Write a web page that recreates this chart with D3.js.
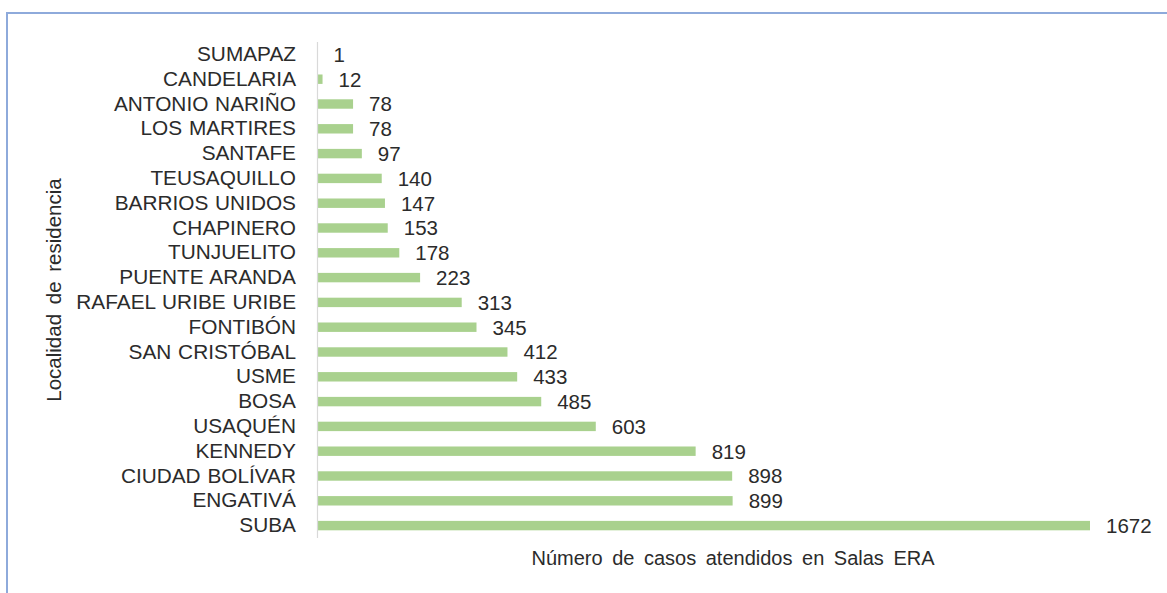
<!DOCTYPE html>
<html>
<head>
<meta charset="utf-8">
<script src="https://cdn.jsdelivr.net/npm/d3@7"></script>
<style>
  html, body { margin: 0; padding: 0; background: #fff; }
  svg { display: block; font-family: "Liberation Sans", Arial, sans-serif; }
</style>
</head>
<body>
<svg id="chart" width="1167" height="593"></svg>
<script>
// Casos atendidos en Salas ERA por localidad de residencia
const localidades = [
  "SUMAPAZ", "CANDELARIA", "ANTONIO NARIÑO", "LOS MARTIRES", "SANTAFE",
  "TEUSAQUILLO", "BARRIOS UNIDOS", "CHAPINERO", "TUNJUELITO", "PUENTE ARANDA",
  "RAFAEL URIBE URIBE", "FONTIBÓN", "SAN CRISTÓBAL", "USME", "BOSA",
  "USAQUÉN", "KENNEDY", "CIUDAD BOLÍVAR", "ENGATIVÁ", "SUBA"
];
const casos = [
  1, 12, 78, 78, 97,
  140, 147, 153, 178, 223,
  313, 345, 412, 433, 485,
  603, 819, 898, 899, 1672
];
const tituloX = "Número de casos atendidos en Salas ERA";
const tituloY = "Localidad de residencia";

const data = localidades.map((d, i) => ({ loc: d, n: casos[i] }));

const svg = d3.select("#chart");
const textColor = "#2b2b2b";

// Chart frame (top and left edges)
svg.append("line")
  .attr("x1", 7).attr("x2", 1167).attr("y1", 13).attr("y2", 13)
  .attr("stroke", "#8eaadb").attr("stroke-width", 2);
svg.append("line")
  .attr("x1", 7).attr("x2", 7).attr("y1", 12).attr("y2", 593)
  .attr("stroke", "#8eaadb").attr("stroke-width", 2);

const x = d3.scaleLinear().domain([0, d3.max(casos)]).range([317, 1090]);
const y = d3.scaleBand().domain(localidades).range([42, 538])
  .paddingInner(0.62).paddingOuter(0.31);

// Bars
svg.append("g").selectAll("rect")
  .data(data).join("rect")
  .attr("x", x(0))
  .attr("y", d => y(d.loc))
  .attr("width", d => x(d.n) - x(0))
  .attr("height", y.bandwidth())
  .attr("fill", "#a9d18e");

// Category axis
const yAxis = svg.append("g")
  .attr("transform", `translate(${x(0)},0)`)
  .call(d3.axisLeft(y).tickSize(0).tickPadding(21));
yAxis.select(".domain")
  .attr("d", `M0.5,42V538`)
  .attr("stroke", "#d9d9d9").attr("stroke-width", 1.2);
yAxis.selectAll("text")
  .attr("fill", textColor)
  .attr("font-size", "20.8px")
  .attr("word-spacing", "1px")
  .attr("font-family", "'Liberation Sans', Arial, sans-serif");

// Value labels
svg.append("g").selectAll("text")
  .data(data).join("text")
  .attr("x", d => x(d.n) + 16)
  .attr("y", d => y(d.loc) + y.bandwidth() / 2)
  .attr("dy", "0.36em")
  .attr("fill", textColor)
  .attr("font-size", "20.5px")
  .text(d => d.n);

// Axis titles
svg.append("text")
  .attr("x", 733).attr("y", 565)
  .attr("text-anchor", "middle")
  .attr("fill", textColor)
  .attr("font-size", "20px")
  .attr("word-spacing", "4px")
  .text(tituloX);

svg.append("text")
  .attr("transform", "translate(61,290) rotate(-90)")
  .attr("text-anchor", "middle")
  .attr("fill", textColor)
  .attr("font-size", "20.5px")
  .attr("word-spacing", "4px")
  .text(tituloY);
</script>
</body>
</html>
